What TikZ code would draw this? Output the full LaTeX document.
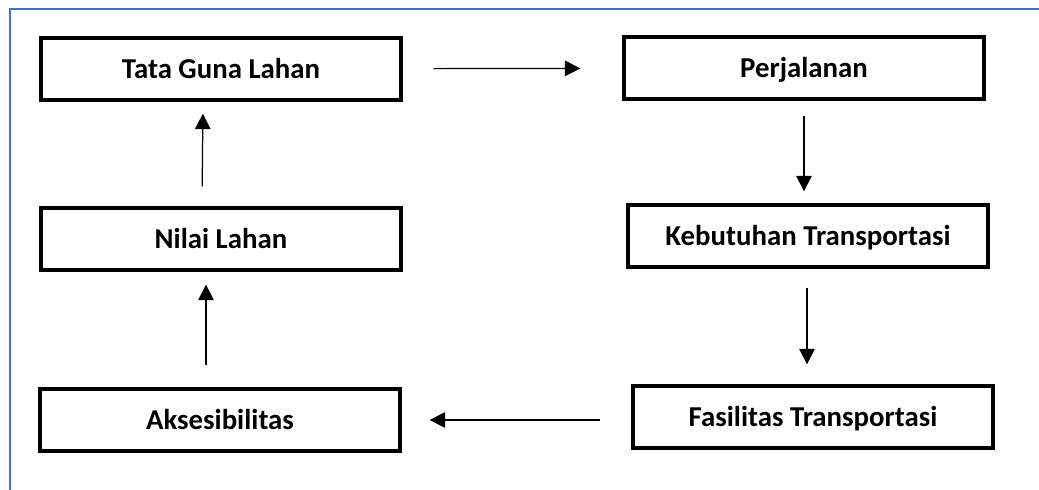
\documentclass[tikz,border=0pt]{standalone}
\usepackage{fontspec}
\setmainfont{Carlito}
\usetikzlibrary{arrows.meta,calc}
\definecolor{bingkai}{RGB}{68,114,196}
\tikzset{
    kotak/.style={draw,line width=1.9pt,minimum width=7.2cm,minimum height=1.24cm,
                  font=\fontsize{16.4}{19}\selectfont\bfseries,inner sep=0pt,
                  text height=0.38cm,text depth=0cm},
    panah/.style={line width=0.7pt,-{Triangle[length=0.31cm,width=0.31cm]}},
  }
\begin{document}
\begin{tikzpicture}[x=0.02cm,y=-0.02cm]
                                    %ukuran gambar dalam piksel
                                    \useasboundingbox (0,0) rectangle (1039,490);
                                    \draw[bingkai,line width=1.2pt] (10,490) -- (10,9) -- (1039,9);
                                    %kotak
                                    \node[kotak](tata) at (221,69) {Tata Guna Lahan};
                                    \node[kotak](jalan) at (804,68) {Perjalanan};
                                    \node[kotak](nilai) at (221,239) {Nilai Lahan};
                                    \node[kotak](butuh) at (808,236) {Kebutuhan Transportasi};
                                    \node[kotak](akses) at (220,420) {Aksesibilitas};
                                    \node[kotak](fasil) at (813,417) {Fasilitas Transportasi};
                                    %panah
                                    \draw[panah,shorten <=0.62cm,shorten >=0.84cm] (tata) -- (jalan);
                                    \draw[panah,shorten <=0.3cm,shorten >=0.24cm] (jalan.south) -- (jalan.south |- butuh.north);
                                    \draw[panah,shorten <=0.38cm,shorten >=0.4cm] ([xshift=-0.02cm]butuh.south) -- ([xshift=-0.02cm]butuh.south |- fasil.north);
                                    \draw[panah,shorten <=0.62cm,shorten >=0.56cm] (fasil.west |- akses) -- (akses.east);
                                    \draw[panah,shorten <=0.44cm,shorten >=0.26cm] ([xshift=-0.28cm]akses.north) -- ([xshift=-0.28cm]akses.north |- nilai.south);
                                    \draw[panah,shorten <=0.4cm,shorten >=0.24cm] ([xshift=-0.38cm]nilai.north) -- ([xshift=-0.36cm]tata.south);
\end{tikzpicture}
\end{document}
